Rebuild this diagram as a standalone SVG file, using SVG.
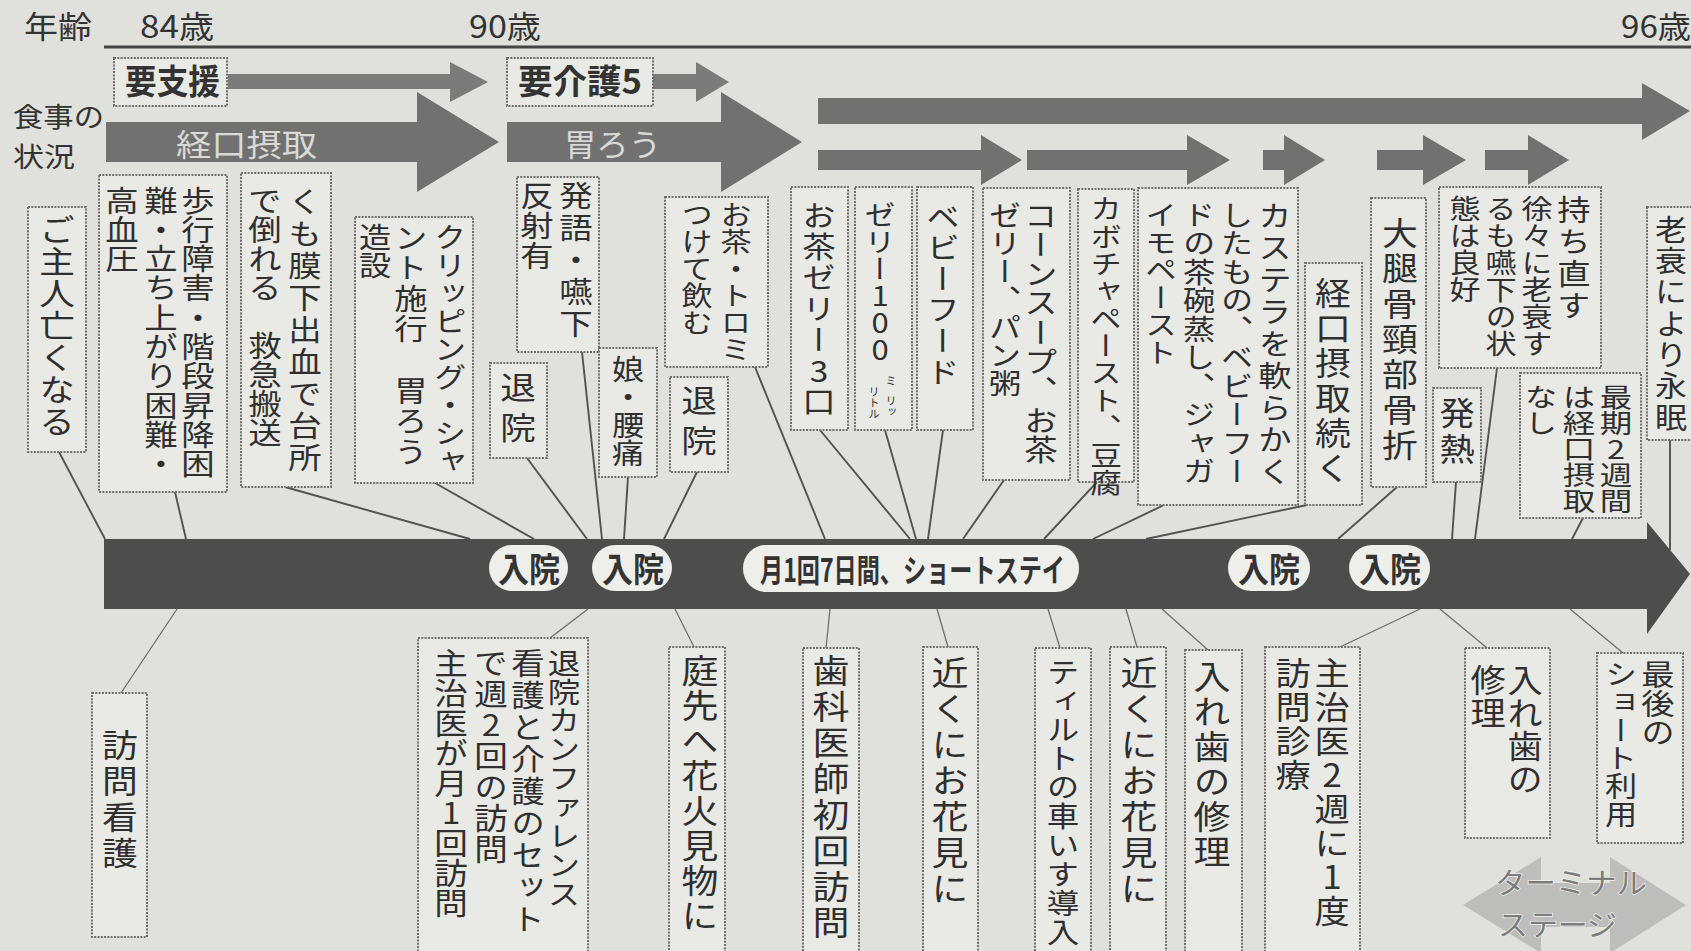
<svg xmlns="http://www.w3.org/2000/svg" width="1691" height="951" viewBox="0 0 1691 951">
<style>
.box{fill:#e9eae6;stroke:#6e6e6e;stroke-width:2;stroke-dasharray:2 1.3}
.v{font-family:"Noto Sans CJK JP","Noto Sans CJK SC",sans-serif;writing-mode:vertical-rl;text-orientation:upright;fill:#2f2f2f}
.h{font-family:"Noto Sans CJK JP","Noto Sans CJK SC",sans-serif;fill:#333}
.hb{font-family:"Noto Sans CJK JP","Noto Sans CJK SC",sans-serif;font-weight:bold;fill:#333}
.cn{stroke:#525252;stroke-width:1.9;fill:none}
.cb{stroke:#6e6e6e;stroke-width:1.3;fill:none}
.pill{fill:#eeeeea}
.care{fill:#7b7b7b}
.eat{fill:#717171}
.sm{font-size:11px}
.term{fill:#7c7c7c;stroke:#f0f0ed;stroke-width:1.5;paint-order:stroke}
</style>
<rect width="1691" height="951" fill="#e0e1dd"/>

<g id="header">
<text class="h" x="24" y="38" font-size="31" textLength="68" lengthAdjust="spacingAndGlyphs">年齢</text>
<text class="h" x="140" y="38" font-size="31" textLength="74" lengthAdjust="spacingAndGlyphs">84歳</text>
<text class="h" x="469" y="38" font-size="31" textLength="72" lengthAdjust="spacingAndGlyphs">90歳</text>
<text class="h" x="1621" y="38" font-size="31" textLength="70" lengthAdjust="spacingAndGlyphs">96歳</text>
<line x1="104" y1="47" x2="1691" y2="47" stroke="#454545" stroke-width="3"/>
<text class="h" x="13" y="127" font-size="27.5" textLength="91" lengthAdjust="spacingAndGlyphs">食事の</text>
<text class="h" x="13" y="167" font-size="27.5" textLength="62" lengthAdjust="spacingAndGlyphs">状況</text>
</g>

<g id="care-level">
<polygon class="care" points="228,74 450,74 450,62 488,82 450,102 450,89 228,89"/>
<polygon class="care" points="653,74 696,74 696,62 729,82 696,102 696,89 653,89"/>
<g id="yoshien"><rect class="box" x="114" y="58" width="113" height="48"/>
<text class="hb" x="125" y="94" font-size="34" textLength="95" lengthAdjust="spacingAndGlyphs">要支援</text></g>
<g id="yokaigo5"><rect class="box" x="507" y="58" width="146" height="48"/>
<text class="hb" x="518" y="94" font-size="34" textLength="124" lengthAdjust="spacingAndGlyphs">要介護5</text></g>
</g>

<g id="eating">
<polygon class="eat" points="106,122 417,122 417,92 499,142 417,192 417,162 106,162"/>
<text class="h" x="176" y="156" font-size="31" textLength="141" lengthAdjust="spacingAndGlyphs" style="fill:#d9d9d6">経口摂取</text>
<polygon class="eat" points="507,122 721,122 721,92 802,142 721,192 721,162 507,162"/>
<text class="h" x="564" y="156" font-size="31" textLength="97" lengthAdjust="spacingAndGlyphs" style="fill:#d9d9d6">胃ろう</text>
<polygon class="eat" points="818,98 1642,98 1642,83 1690,111 1642,140 1642,124 818,124"/>
<polygon class="eat" points="818,150 981,150 981,135 1022,160 981,185 981,170 818,170"/>
<polygon class="eat" points="1027,150 1187,150 1187,135 1230,160 1187,185 1187,170 1027,170"/>
<polygon class="eat" points="1263,150 1284,150 1284,135 1325,160 1284,185 1284,170 1263,170"/>
<polygon class="eat" points="1377,150 1423,150 1423,135 1466,160 1423,185 1423,170 1377,170"/>
<polygon class="eat" points="1485,150 1528,150 1528,135 1569,160 1528,185 1528,170 1485,170"/>
</g>

<g id="connectors">
<line class="cn" x1="59" y1="452" x2="105" y2="539"/>
<line class="cn" x1="175" y1="492" x2="186" y2="539"/>
<line class="cn" x1="285" y1="487" x2="470" y2="539"/>
<line class="cn" x1="435" y1="483" x2="534" y2="539"/>
<line class="cn" x1="527" y1="458" x2="587" y2="539"/>
<line class="cn" x1="582" y1="352" x2="602" y2="539"/>
<line class="cn" x1="628" y1="477" x2="624" y2="539"/>
<line class="cn" x1="697" y1="472" x2="664" y2="539"/>
<line class="cn" x1="755" y1="367" x2="825" y2="539"/>
<line class="cn" x1="820" y1="430" x2="910" y2="539"/>
<line class="cn" x1="885" y1="430" x2="916" y2="539"/>
<line class="cn" x1="943" y1="430" x2="928" y2="539"/>
<line class="cn" x1="1004" y1="480" x2="963" y2="539"/>
<line class="cn" x1="1097" y1="482" x2="1044" y2="539"/>
<line class="cn" x1="1164" y1="505" x2="1093" y2="539"/>
<line class="cn" x1="1307" y1="505" x2="1146" y2="539"/>
<line class="cn" x1="1397" y1="487" x2="1338" y2="539"/>
<line class="cn" x1="1456" y1="482" x2="1452" y2="539"/>
<line class="cn" x1="1497" y1="368" x2="1475" y2="539"/>
<line class="cn" x1="1583" y1="518" x2="1572" y2="539"/>
<line class="cn" x1="1670" y1="440" x2="1670" y2="550"/>
<line class="cb" x1="177" y1="609" x2="121" y2="693"/>
<line class="cb" x1="588" y1="609" x2="550" y2="638"/>
<line class="cb" x1="675" y1="609" x2="694" y2="647"/>
<line class="cb" x1="830" y1="609" x2="826" y2="648"/>
<line class="cb" x1="937" y1="609" x2="948" y2="647"/>
<line class="cb" x1="1048" y1="609" x2="1060" y2="648"/>
<line class="cb" x1="1126" y1="609" x2="1137" y2="647"/>
<line class="cb" x1="1162" y1="609" x2="1208" y2="650"/>
<line class="cb" x1="1420" y1="609" x2="1340" y2="647"/>
<line class="cb" x1="1440" y1="609" x2="1487" y2="648"/>
<line class="cb" x1="1570" y1="609" x2="1623" y2="653"/>
</g>

<g id="timeline">
<polygon fill="#4d4d4d" points="104,539 1647,539 1647,522 1690,574 1647,634 1647,609 104,609"/>
<g id="nyuin1"><rect class="pill" x="489" y="545" width="79" height="46" rx="23"/>
<text class="hb" x="498" y="582" font-size="34" textLength="62" lengthAdjust="spacingAndGlyphs">入院</text></g>
<g id="nyuin2"><rect class="pill" x="592" y="545" width="80" height="46" rx="23"/>
<text class="hb" x="602" y="582" font-size="34" textLength="62" lengthAdjust="spacingAndGlyphs">入院</text></g>
<g id="shortstay"><rect class="pill" x="743" y="545" width="336" height="47" rx="23"/>
<text class="hb" x="760" y="582" font-size="32" textLength="305" lengthAdjust="spacingAndGlyphs">月1回7日間、ショートステイ</text></g>
<g id="nyuin3"><rect class="pill" x="1228" y="545" width="82" height="46" rx="23"/>
<text class="hb" x="1238" y="582" font-size="34" textLength="62" lengthAdjust="spacingAndGlyphs">入院</text></g>
<g id="nyuin4"><rect class="pill" x="1349" y="545" width="81" height="46" rx="23"/>
<text class="hb" x="1359" y="582" font-size="34" textLength="62" lengthAdjust="spacingAndGlyphs">入院</text></g>
</g>

<g id="t1"><rect class="box" x="28" y="207" width="58" height="245"/>
<text class="v" transform="translate(57,214) scale(1.15,1)" font-size="31" letter-spacing="1">ご主人亡くなる</text></g>
<g id="t2"><rect class="box" x="99" y="175" width="128" height="317"/>
<text class="v" transform="translate(198,186) scale(1.15,1)" font-size="29" letter-spacing="0.3">歩行障害・階段昇降困</text>
<text class="v" transform="translate(161,186) scale(1.15,1)" font-size="29" letter-spacing="0.3">難・立ち上がり困難・</text>
<text class="v" transform="translate(122,186) scale(1.15,1)" font-size="29" letter-spacing="0.3">高血圧</text></g>
<g id="t3"><rect class="box" x="241" y="173" width="90" height="314"/>
<text class="v" transform="translate(305,187) scale(1.15,1)" font-size="29" letter-spacing="3">くも膜下出血で台所</text>
<text class="v" transform="translate(265,186) scale(1.15,1)" font-size="29">で倒れる　救急搬送</text></g>
<g id="t4"><rect class="box" x="355" y="217" width="118" height="266"/>
<text class="v" transform="translate(450,223) scale(1.15,1)" font-size="28">クリッピング・シャ</text>
<text class="v" transform="translate(411,223) scale(1.15,1)" font-size="29" letter-spacing="1.6">ント施行　胃ろう</text>
<text class="v" transform="translate(375,223) scale(1.15,1)" font-size="28">造設</text></g>
<g id="t5"><rect class="box" x="517" y="177" width="82" height="175"/>
<text class="v" transform="translate(576,181) scale(1.15,1)" font-size="29" letter-spacing="3">発語・嚥下</text>
<text class="v" transform="translate(537,181) scale(1.15,1)" font-size="29" letter-spacing="1">反射有</text></g>
<g id="t6"><rect class="box" x="490" y="363" width="57" height="95"/>
<text class="v" transform="translate(518,372) scale(1.15,1)" font-size="31" letter-spacing="9">退院</text></g>
<g id="t7"><rect class="box" x="599" y="348" width="58" height="129"/>
<text class="v" transform="translate(628,355) scale(1.15,1)" font-size="28">娘・腰痛</text></g>
<g id="t8"><rect class="box" x="670" y="377" width="58" height="95"/>
<text class="v" transform="translate(699,385) scale(1.15,1)" font-size="31" letter-spacing="9">退院</text></g>
<g id="t9"><rect class="box" x="665" y="197" width="103" height="170"/>
<text class="v" transform="translate(736,201) scale(1.15,1)" font-size="27">お茶・トロミ</text>
<text class="v" transform="translate(697,201) scale(1.15,1)" font-size="27">つけて飲む</text></g>
<g id="t10"><rect class="box" x="791" y="187" width="57" height="243"/>
<text class="v" transform="translate(819,201) scale(1.15,1)" font-size="29" letter-spacing="2">お茶ゼリー3口</text></g>
<g id="t11"><rect class="box" x="855" y="187" width="57" height="243"/>
<text class="v" transform="translate(880,201) scale(1.15,1)" font-size="27">ゼリー100</text>
<text class="v sm" x="891" y="375">ミ</text>
<text class="v sm" x="891" y="395">リッ</text>
<text class="v sm" x="874" y="386">リトル</text></g>
<g id="t12"><rect class="box" x="917" y="187" width="56" height="243"/>
<text class="v" transform="translate(943,202) scale(1.15,1)" font-size="29" letter-spacing="2">ベビーフード</text></g>
<g id="t13"><rect class="box" x="983" y="188" width="87" height="292"/>
<text class="v" transform="translate(1041,201) scale(1.15,1)" font-size="29" letter-spacing="0.3">コーンスープ、お茶</text>
<text class="v" transform="translate(1005,201) scale(1.15,1)" font-size="28">ゼリー、パン粥</text></g>
<g id="t14"><rect class="box" x="1078" y="189" width="56" height="293"/>
<text class="v" transform="translate(1106,195) scale(1.15,1)" font-size="27.4">カボチャペースト、豆腐</text></g>
<g id="t15"><rect class="box" x="1138" y="188" width="160" height="317"/>
<text class="v" transform="translate(1275,201) scale(1.15,1)" font-size="29" letter-spacing="3">カステラを軟らかく</text>
<text class="v" transform="translate(1237,201) scale(1.15,1)" font-size="28" letter-spacing="0.5">したもの、ベビーフー</text>
<text class="v" transform="translate(1199,201) scale(1.15,1)" font-size="28" letter-spacing="0.5">ドの茶碗蒸し、ジャガ</text>
<text class="v" transform="translate(1161,201) scale(1.15,1)" font-size="27.5">イモペースト</text></g>
<g id="t16"><rect class="box" x="1305" y="263" width="57" height="242"/>
<text class="v" transform="translate(1333,277) scale(1.12,1)" font-size="32" letter-spacing="3">経口摂取続く</text></g>
<g id="t17"><rect class="box" x="1371" y="198" width="55" height="289"/>
<text class="v" transform="translate(1400,217) scale(1.12,1)" font-size="32" letter-spacing="3.3">大腿骨頸部骨折</text></g>
<g id="t18"><rect class="box" x="1433" y="388" width="48" height="94"/>
<text class="v" transform="translate(1457,397) scale(1.1,1)" font-size="32" letter-spacing="4">発熱</text></g>
<g id="t19"><rect class="box" x="1439" y="187" width="162" height="181"/>
<text class="v" transform="translate(1574,195) scale(1.15,1)" font-size="29" letter-spacing="3">持ち直す</text>
<text class="v" transform="translate(1537,195) scale(1.15,1)" font-size="27">徐々に老衰す</text>
<text class="v" transform="translate(1501,195) scale(1.15,1)" font-size="27">るも嚥下の状</text>
<text class="v" transform="translate(1465,195) scale(1.15,1)" font-size="27">態は良好</text></g>
<g id="t20"><rect class="box" x="1520" y="373" width="121" height="145"/>
<text class="v" transform="translate(1616,384) scale(1.25,1)" font-size="26">最期2週間</text>
<text class="v" transform="translate(1579,384) scale(1.25,1)" font-size="26">は経口摂取</text>
<text class="v" transform="translate(1541,384) scale(1.25,1)" font-size="26">なし</text></g>
<g id="t21"><rect class="box" x="1647" y="207" width="60" height="233"/>
<text class="v" transform="translate(1671,215) scale(1.1,1)" font-size="29" letter-spacing="2.4">老衰により永眠</text></g>

<g id="b1"><rect class="box" x="92" y="693" width="55" height="244"/>
<text class="v" transform="translate(120,729) scale(1.12,1)" font-size="32" letter-spacing="4">訪問看護</text></g>
<g id="b2"><rect class="box" x="418" y="638" width="170" height="320"/>
<text class="v" transform="translate(564,648) scale(1.12,1)" font-size="29">退院カンファレンス</text>
<text class="v" transform="translate(528,648) scale(1.12,1)" font-size="30" letter-spacing="2">看護と介護のセット</text>
<text class="v" transform="translate(491,648) scale(1.12,1)" font-size="30" letter-spacing="1">で週2回の訪問</text>
<text class="v" transform="translate(451,648) scale(1.12,1)" font-size="30">主治医が月1回訪問</text></g>
<g id="b3"><rect class="box" x="669" y="647" width="56" height="310"/>
<text class="v" transform="translate(700,654) scale(1.12,1)" font-size="33" letter-spacing="2">庭先へ花火見物に</text></g>
<g id="b4"><rect class="box" x="803" y="648" width="56" height="310"/>
<text class="v" transform="translate(831,654) scale(1.12,1)" font-size="33" letter-spacing="3">歯科医師初回訪問</text></g>
<g id="b5"><rect class="box" x="923" y="647" width="55" height="310"/>
<text class="v" transform="translate(950,656) scale(1.12,1)" font-size="33" letter-spacing="3">近くにお花見に</text></g>
<g id="b6"><rect class="box" x="1035" y="648" width="56" height="310"/>
<text class="v" transform="translate(1063,657) scale(1.12,1)" font-size="29">ティルトの車いす導入</text></g>
<g id="b7"><rect class="box" x="1110" y="647" width="56" height="310"/>
<text class="v" transform="translate(1139,656) scale(1.12,1)" font-size="33" letter-spacing="3">近くにお花見に</text></g>
<g id="b8"><rect class="box" x="1185" y="650" width="57" height="310"/>
<text class="v" transform="translate(1212,660) scale(1.12,1)" font-size="33" letter-spacing="2">入れ歯の修理</text></g>
<g id="b9"><rect class="box" x="1265" y="647" width="95" height="310"/>
<text class="v" transform="translate(1332,657) scale(1.1,1)" font-size="32" letter-spacing="2">主治医2週に1度</text>
<text class="v" transform="translate(1293,657) scale(1.1,1)" font-size="32" letter-spacing="2">訪問診療</text></g>
<g id="b10"><rect class="box" x="1465" y="648" width="85" height="190"/>
<text class="v" transform="translate(1525,664) scale(1.1,1)" font-size="32" letter-spacing="1">入れ歯の</text>
<text class="v" transform="translate(1488,664) scale(1.1,1)" font-size="32" letter-spacing="1">修理</text></g>
<g id="b11"><rect class="box" x="1597" y="653" width="86" height="190"/>
<text class="v" transform="translate(1658,660) scale(1.15,1)" font-size="29">最後の</text>
<text class="v" transform="translate(1621,660) scale(1.15,1)" font-size="28">ショート利用</text></g>

<g id="terminal">
<polygon fill="#bdbebb" points="1463,905 1541,857 1541,883 1610,883 1610,857 1686,905 1610,953 1610,927 1541,927 1541,953"/>
<text class="h term" font-size="29"><tspan x="1495" y="894" textLength="152" lengthAdjust="spacingAndGlyphs">ターミナル</tspan><tspan x="1498" y="936" textLength="119" lengthAdjust="spacingAndGlyphs">ステージ</tspan></text>
</g>
</svg>
